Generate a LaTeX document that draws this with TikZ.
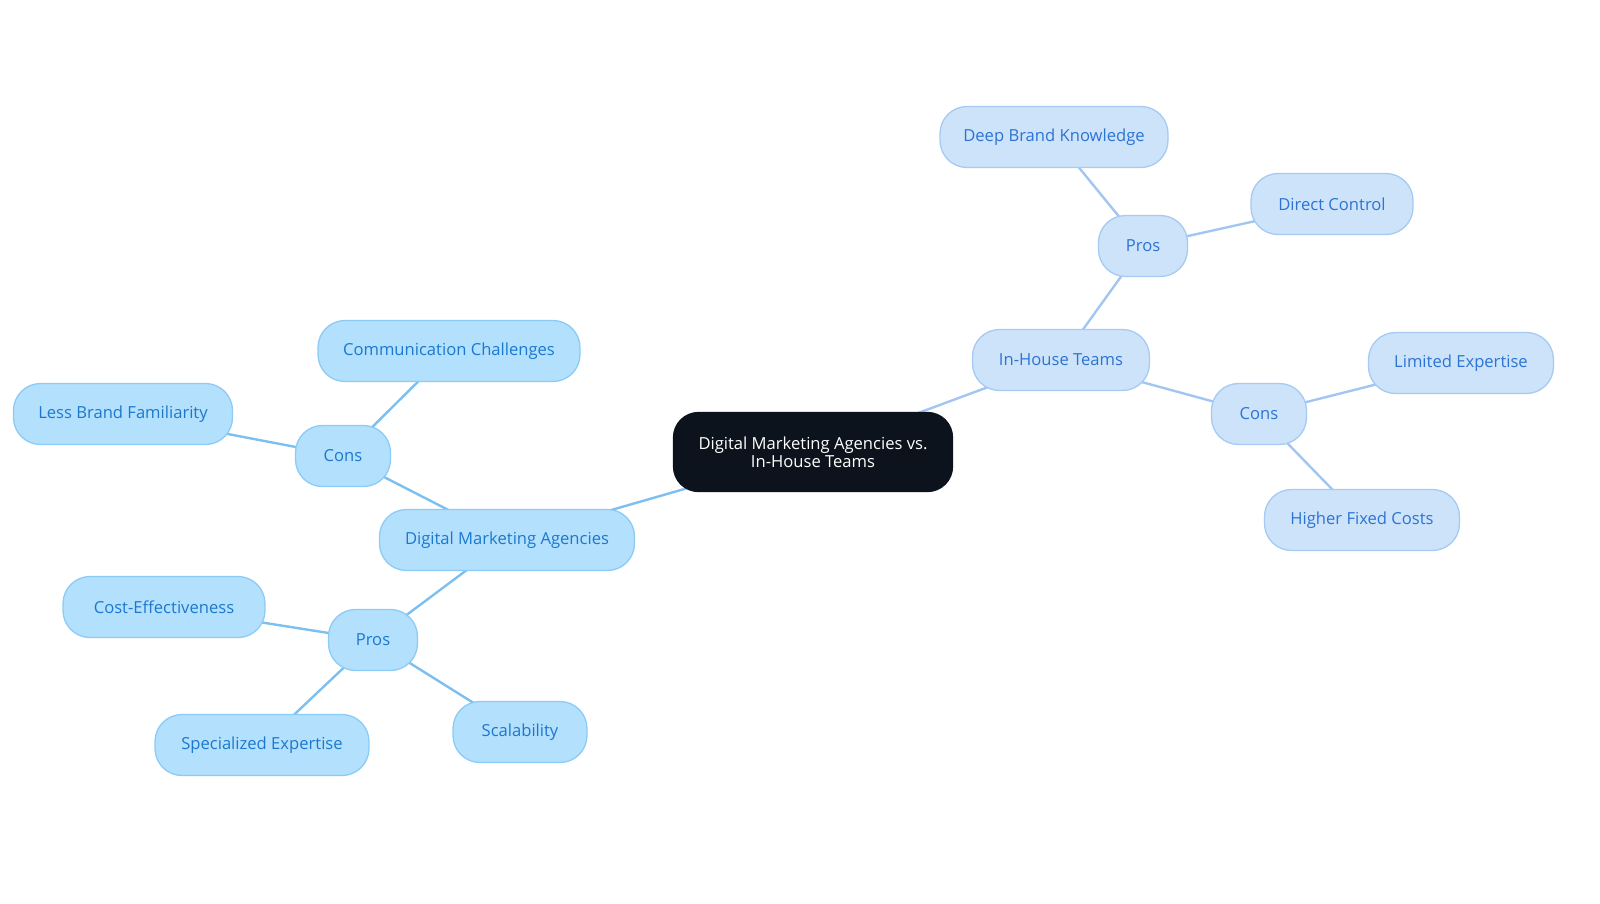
\documentclass[tikz,border=0pt]{standalone}
\usepackage{fontspec}
\setmainfont{Open Sans}
\usetikzlibrary{backgrounds}
\definecolor{lfill}{HTML}{B3E0FD}
\definecolor{ldraw}{HTML}{8CCBF5}
\definecolor{ltext}{HTML}{1C78CF}
\definecolor{lline}{HTML}{7CC0F0}
\definecolor{rfill}{HTML}{CDE3FA}
\definecolor{rdraw}{HTML}{A6CAF2}
\definecolor{rtext}{HTML}{2C73D4}
\definecolor{rline}{HTML}{A2C6F1}
\definecolor{cfill}{HTML}{0D131C}
\tikzset{
  base/.style={rounded corners=27pt, line width=1.3pt, minimum height=61pt, inner sep=0pt, align=center, font=\fontsize{16.6}{18}\selectfont},
  lbox/.style={base, fill=lfill, draw=ldraw, text=ltext},
  rbox/.style={base, fill=rfill, draw=rdraw, text=rtext},
  cbox/.style={base, fill=cfill, draw=cfill, text=white, minimum height=79pt, rounded corners=25pt},
  lconn/.style={draw=lline, line width=2.4pt},
  rconn/.style={draw=rline, line width=2.4pt},
}
\begin{document}
\begin{tikzpicture}[x=1pt,y=-1pt]
\useasboundingbox (0,0) rectangle (1600,903);
\node[cbox, minimum width=279pt] (c) at (813,452) {Digital Marketing Agencies vs.\\In-House Teams};
\node[lbox, minimum width=255pt] (dma) at (507,540) {Digital Marketing Agencies};
\node[lbox, minimum width=95pt] (lcons) at (343,456) {Cons};
\node[lbox, minimum width=262pt] (cc) at (449,351) {Communication Challenges};
\node[lbox, minimum width=219pt] (lbf) at (123,414) {Less Brand Familiarity};
\node[lbox, minimum width=89pt] (lpros) at (373,640) {Pros};
\node[lbox, minimum width=202pt] (ce) at (164,607) {Cost-Effectiveness};
\node[lbox, minimum width=214pt] (se) at (262,745) {Specialized Expertise};
\node[lbox, minimum width=134pt] (sc) at (520,732) {Scalability};
\node[rbox, minimum width=177pt] (iht) at (1061,360) {In-House Teams};
\node[rbox, minimum width=89pt] (rpros) at (1143,246) {Pros};
\node[rbox, minimum width=228pt] (dbk) at (1054,137) {Deep Brand Knowledge};
\node[rbox, minimum width=162pt] (dc) at (1332,204) {Direct Control};
\node[rbox, minimum width=95pt] (rcons) at (1259,414) {Cons};
\node[rbox, minimum width=185pt] (le) at (1461,363) {Limited Expertise};
\node[rbox, minimum width=195pt] (hfc) at (1362,520) {Higher Fixed Costs};
\begin{scope}[on background layer]
\draw[lconn] (c.center) -- (dma.center);
\draw[lconn] (dma.center) -- (lcons.center);
\draw[lconn] (lcons.center) -- (cc.center);
\draw[lconn] (lcons.center) -- (lbf.center);
\draw[lconn] (dma.center) -- (lpros.center);
\draw[lconn] (lpros.center) -- (ce.center);
\draw[lconn] (lpros.center) -- (se.center);
\draw[lconn] (lpros.center) -- (sc.center);
\draw[rconn] (c.center) -- (iht.center);
\draw[rconn] (iht.center) -- (rpros.center);
\draw[rconn] (rpros.center) -- (dbk.center);
\draw[rconn] (rpros.center) -- (dc.center);
\draw[rconn] (iht.center) -- (rcons.center);
\draw[rconn] (rcons.center) -- (le.center);
\draw[rconn] (rcons.center) -- (hfc.center);
\end{scope}
\end{tikzpicture}
\end{document}
